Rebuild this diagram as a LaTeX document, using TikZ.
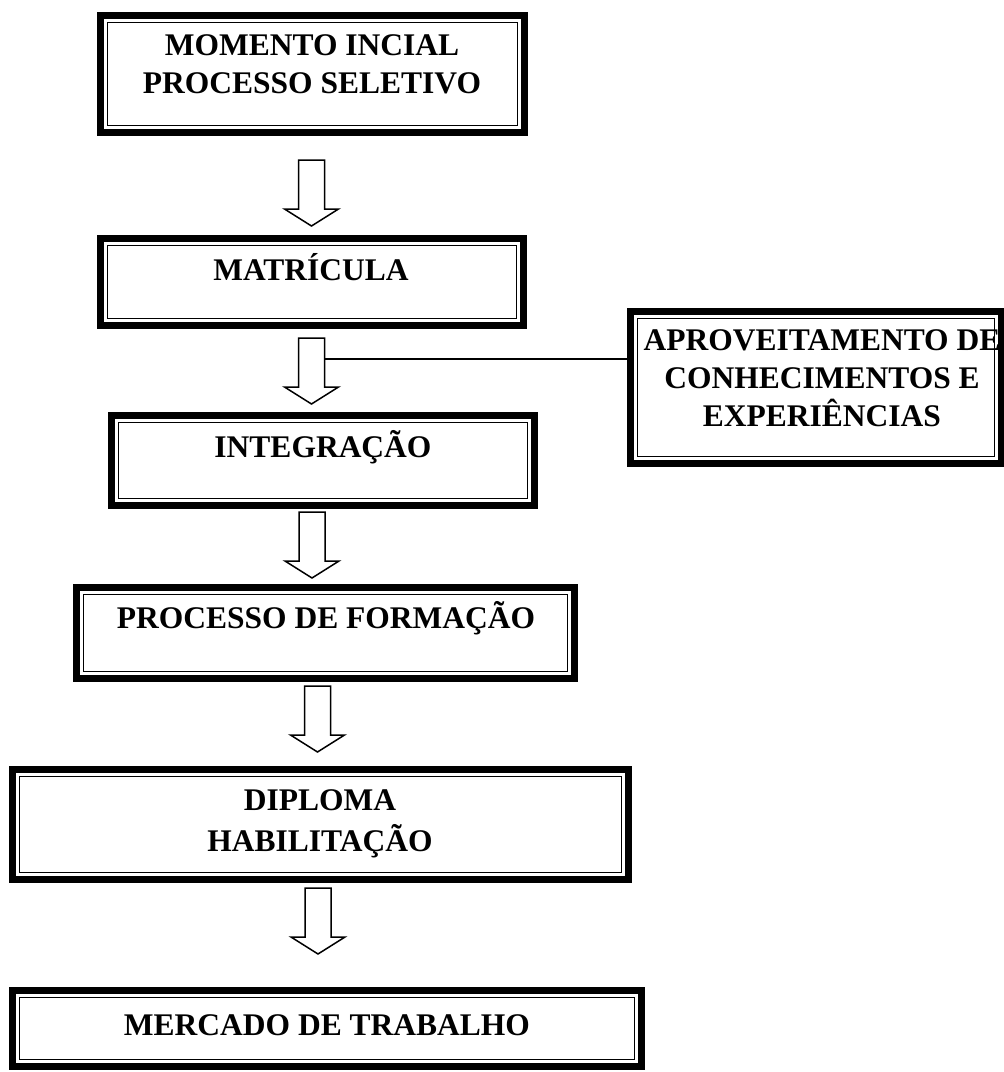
\documentclass[tikz,border=0pt]{standalone}
\usepackage{fontspec}
\setmainfont{Liberation Serif}
\tikzset{
  caixa/.style={draw,rectangle,line width=7pt,inner sep=0pt,outer sep=0pt},
  fino/.style={line width=1.5pt},
  rotulo/.style={font=\bfseries\fontsize{31.5}{38}\selectfont,anchor=base,inner sep=0pt},
  contorno/.style={line width=1.5pt,line join=miter},
  pics/setabloco/.style={code={
      \draw[contorno] (-13,0) -- (13,0) -- (13,49) -- (27,49) -- (0,66) -- (-27,49) -- (-13,49) -- cycle;
      \coordinate (-lado) at (13,21);
  }}
}
\newcommand{\linhas}[1]{\begin{tabular}[t]{@{}c@{}}#1\end{tabular}}

\begin{document}
\begin{tikzpicture}[x=1pt,y=-1pt]
  \useasboundingbox (0,0) rectangle (1004,1072);

  % caixas
  \node[caixa,minimum width=424,minimum height=117] (inicio) at (312.5,74) {};
  \node[caixa,minimum width=423,minimum height=87] (matricula) at (312,282) {};
  \node[caixa,minimum width=423,minimum height=90] (integracao) at (323,460.5) {};
  \node[caixa,minimum width=498,minimum height=91] (formacao) at (325.5,633) {};
  \node[caixa,minimum width=616,minimum height=110] (diploma) at (320.5,824.5) {};
  \node[caixa,minimum width=629,minimum height=76] (mercado) at (327,1028.5) {};
  \node[caixa,minimum width=371,minimum height=152] (aproveita) at (816,387.5) {};

  \foreach \c in {inicio,matricula,integracao,formacao,diploma,mercado,aproveita}
      \draw[fino] ([shift={(7pt,-7pt)}]\c.north west) rectangle ([shift={(-7pt,7pt)}]\c.south east);

  % textos
  \node[rotulo] (t-inicio) at (312,55) {\linhas{MOMENTO INCIAL\\PROCESSO SELETIVO}};
  \node[rotulo] (t-matricula) at (311,280) {MATRÍCULA};
  \node[rotulo] (t-integracao) at (323,457) {INTEGRAÇÃO};
  \node[rotulo] (t-formacao) at (326,628) {PROCESSO DE FORMAÇÃO};
  \node[rotulo] (t-diploma) at (320,810) {\linhas{DIPLOMA\\[3pt]HABILITAÇÃO}};
  \node[rotulo] (t-mercado) at (327,1035) {MERCADO DE TRABALHO};
  \node[rotulo] (t-aproveita) at (822,350) {\linhas{APROVEITAMENTO DE\\CONHECIMENTOS E\\EXPERIÊNCIAS}};

  % setas
  \pic (s1) at (311.5,160) {setabloco};
  \pic (s2) at (311.5,338) {setabloco};
  \pic (s3) at (312,512) {setabloco};
  \pic (s4) at (317.5,686) {setabloco};
  \pic (s5) at (318,888) {setabloco};

  \draw[fino] (s2-lado) -- (s2-lado -| aproveita.west);

\end{tikzpicture}
\end{document}
